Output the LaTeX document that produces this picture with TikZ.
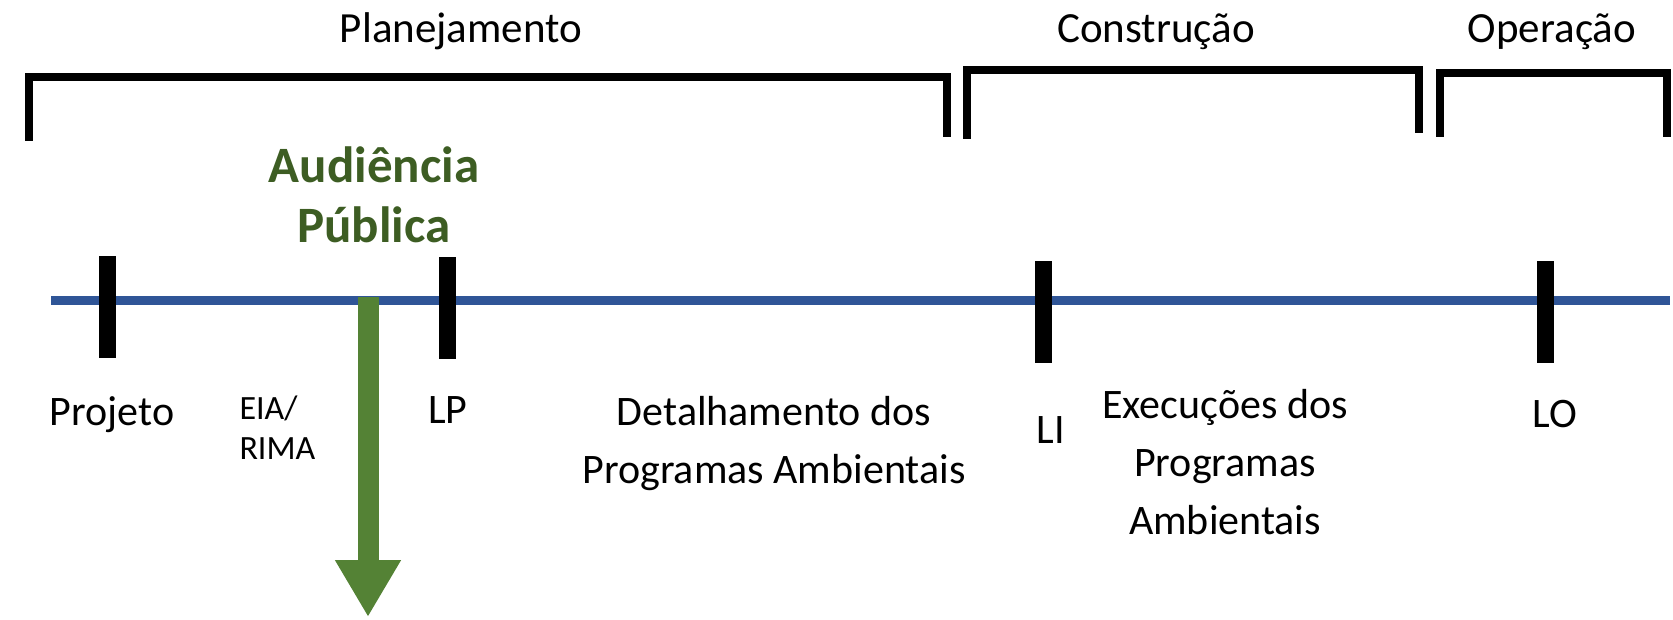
\documentclass[tikz,border=0pt]{standalone}
\usepackage{fontspec}
\setmainfont{Carlito}
\usetikzlibrary{arrows.meta}
\definecolor{lineblue}{RGB}{47,85,151}
\definecolor{arrowgreen}{RGB}{84,130,53}
\definecolor{textgreen}{RGB}{61,93,35}

\begin{document}
\begin{tikzpicture}
    [
    x=1pt, y=-1pt,
    bracket/.style={
        line width=7.5pt,
        line join=miter
    },
    timeline/.style={
        line width=9pt,
        draw=lineblue
    },
    tickmark/.style={
        rectangle,
        fill=black,
        inner sep=0pt,
        minimum width=17pt,
        minimum height=102pt
    },
    audarrow/.style={
        line width=21pt,
        draw=arrowgreen,
        -{Triangle[width=62pt,length=57pt]}
    },
    phasetext/.style={
        anchor=base,
        font=\fontsize{43}{52}\selectfont
    },
    stagetext/.style={
        anchor=base, % base of the last line
        align=center,
        font=\fontsize{42}{58}\selectfont
    },
    smalltext/.style={
        anchor=base west,
        align=left,
        font=\fontsize{34}{40}\selectfont
    },
    audtext/.style={
        anchor=base,
        align=center,
        text=textgreen,
        font=\bfseries\fontsize{51}{60}\selectfont
    },
    ]

    \useasboundingbox (0,0) rectangle (1673,620);

    % phases
    \node[phasetext] (plan) at (461,43) {Planejamento};
    \node[phasetext] (constr) at (1156,43) {Construção};
    \node[phasetext] (oper) at (1552,43) {Operação};

    \draw[bracket] (29,141) |- (947,77) -- (947,137);
    \draw[bracket] (967,139) |- (1419,70) -- (1419,133);
    \draw[bracket] (1440,137) |- (1667,73) -- (1667,137);

    % timeline
    \coordinate (tlstart) at (51,301);
    \coordinate (tlend) at (1670,301);
    \draw[timeline] (tlstart) -- (tlend);

    \coordinate (audtop) at (368,297);
    \coordinate (audtip) at (368,617);
    \draw[audarrow] (audtop) -- (audtip);

    \node[tickmark] (tprojeto) at (107,307) {};
    \node[tickmark] (tlp) at (447,308) {};
    \node[tickmark] (tli) at (1043,312) {};
    \node[tickmark] (tlo) at (1545,312) {};

    \node[audtext] (aud) at (374,243) {Audiência\\Pública};

    \node[stagetext] (projeto) at (112,425) {Projeto};
    \node[smalltext] (eia) at (236,459) {EIA/\\RIMA};
    \node[stagetext] (lp) at (448,423) {LP};
    \node[stagetext] (detalh) at (774,483) {Detalhamento dos\\Programas Ambientais};
    \node[stagetext] (li) at (1051,443) {LI};
    \node[stagetext] (exec) at (1225,534) {Execuções dos\\Programas\\Ambientais};
    \node[stagetext] (lo) at (1555,427) {LO};

\end{tikzpicture}
\end{document}
